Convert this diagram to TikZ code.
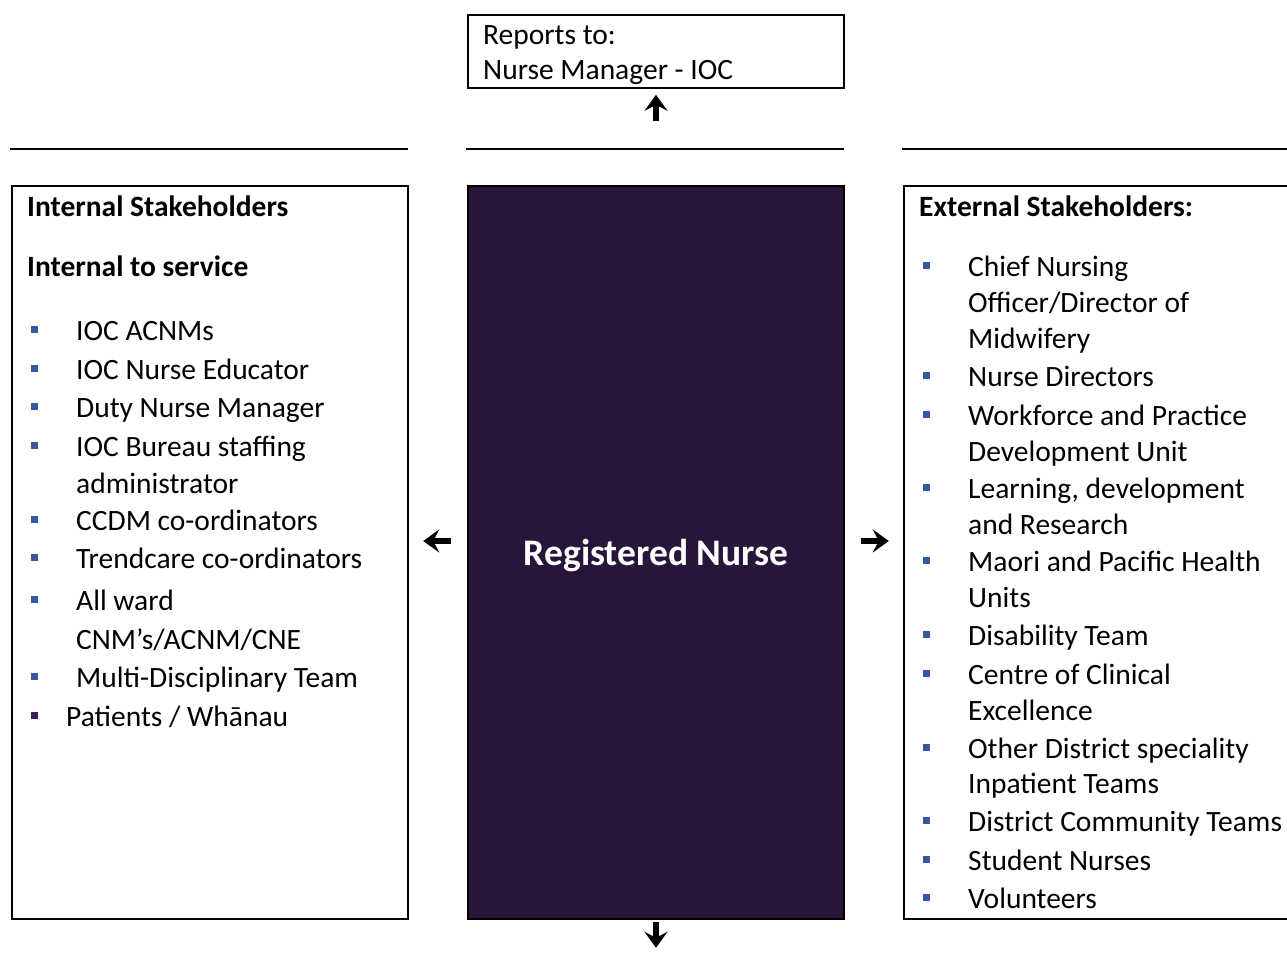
\documentclass[tikz,border=0pt]{standalone}
\usepackage{fontspec}
\setmainfont{Carlito}
\usetikzlibrary{arrows.meta, positioning}
\definecolor{nurse}{RGB}{39, 21, 58}
\definecolor{bluebullet}{RGB}{52, 89, 160}
\definecolor{purplebullet}{RGB}{62, 30, 96}

\tikzset{
  box/.style={draw, line width=1.6pt, rectangle, inner sep=0pt},
  txt/.style={anchor=base west, inner sep=0pt, font=\fontsize{29.5}{36}\selectfont},
  head/.style={txt, font=\fontsize{29.5}{36}\selectfont\bfseries},
  rule/.style={line width=1.6pt},
  blockarrow/.style={line width=6pt, -{Stealth[length=16pt, width=23pt, inset=6pt]}},
}

\begin{document}
\begin{tikzpicture}[x=1pt, y=-1pt]
  \useasboundingbox (0, 0) rectangle (1287, 971);

  % reports to
  \node[box, minimum width=376pt, minimum height=73pt] (report) at (656, 51.5) {};
  \node[txt] (rep1) at (483, 45) {Reports to:};
  \node[txt] (rep2) at (483, 80) {Nurse Manager - IOC};
  \draw[blockarrow] ([yshift=-32pt]report.south) -- ([yshift=-6pt]report.south);

  \draw[rule] (10, 149) -- (408, 149);
  \draw[rule] (466, 149) -- (844, 149);
  \draw[rule] (902, 149) -- (1287, 149);

  % the role
  \node[box, fill=nurse, minimum width=376pt, minimum height=733pt, text=white,
        font=\fontsize{37.5}{44}\selectfont\bfseries] (rn) at (656, 552.5)
        {\raisebox{-3pt}[\height][\depth]{Registered Nurse}};
  \draw[blockarrow] ([shift={(-16pt, 11.5pt)}]rn.west) -- ([shift={(-44pt, 11.5pt)}]rn.west);
  \draw[blockarrow] ([shift={(16pt, 11.5pt)}]rn.east) -- ([shift={(44pt, 11.5pt)}]rn.east);
  \draw[blockarrow] ([yshift=-2pt]rn.south) -- ([yshift=-28pt]rn.south);

  % internal
  \node[box, minimum width=396pt, minimum height=733pt] (internal) at (210, 552.5) {};
  \node[head] (inthead) at (27, 216) {Internal Stakeholders};
  \node[head] (intsub) at (27, 276) {Internal to service};
  \foreach \y/\t in {330/IOC ACNMs, 369/IOC Nurse Educator, 407/Duty Nurse Manager,
                     446/IOC Bureau staffing, 520/CCDM co-ordinators,
                     558/Trendcare co-ordinators, 600/All ward, 677/Multi-Disciplinary Team}{
    \fill[bluebullet] (30.5, \y-4.5) rectangle ++(7.5, 7.5);
    \node[txt] (l\y) at (76, \y+10) {\t};
  }
  \foreach \y/\t in {483/administrator, 639/{CNM's/ACNM/CNE}}
    \node[txt] (l\y) at (76, \y+10) {\t};
  \fill[purplebullet] (30.5, 711.5) rectangle ++(7.5, 7.5);
  \node[txt] (l716) at (66, 726) {Patients / Whānau};

  % external
  \draw[rule] (1287, 186) -- (904, 186) -- (904, 919) -- (1287, 919);
  \node[head] (exthead) at (919, 216) {External Stakeholders:};
  \foreach \y/\t in {266/Chief Nursing, 376/Nurse Directors, 415/Workforce and Practice,
                     488/{Learning, development}, 561/Maori and Pacific Health,
                     635/Disability Team, 674/Centre of Clinical,
                     748/Other District speciality, 821/District Community Teams,
                     860/Student Nurses, 898/Volunteers}{
    \fill[bluebullet] (922.5, \y-4.5) rectangle ++(7.5, 7.5);
    \node[txt] (r\y) at (968, \y+10) {\t};
  }
  \foreach \y/\t in {302/{Officer/Director of}, 338/Midwifery, 451/Development Unit,
                     524/and Research, 597/Units, 710/Excellence, 783/Inpatient Teams}
    \node[txt] (r\y) at (968, \y+10) {\t};
\end{tikzpicture}
\end{document}
